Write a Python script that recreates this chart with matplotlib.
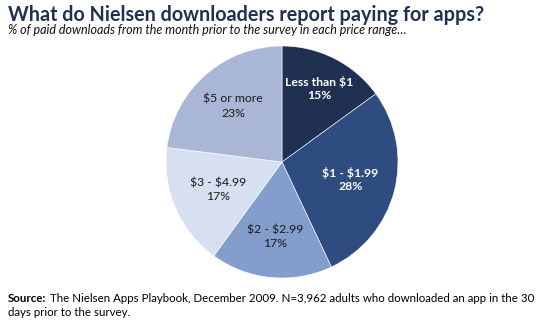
import matplotlib.pyplot as plt
import numpy as np

# price ranges and share of paid downloads
ranges = ["Less than $1", "$1 - $1.99", "$2 - $2.99", "$3 - $4.99", "$5 or more"]
shares = [15, 28, 17, 17, 23]

colors = ["#1f3050", "#2f4c80", "#839ecc", "#d7e0f0", "#aab6d6"]
text_colors = ["white", "white", "#1a1a1a", "#1a1a1a", "#1a1a1a"]
label_weight = ["bold", "bold", "normal", "normal", "normal"]
label_r = [0.71, 0.61, 0.65, 0.6, 0.64]

plt.rcParams['font.family'] = ['Lato', 'DejaVu Sans']
plt.rcParams['text.parse_math'] = False

fig = plt.figure(figsize=(5.45, 3.23), dpi=100)
fig.patch.set_facecolor("white")

fig.text(8 / 545, 1 - 15 / 323, "What do Nielsen downloaders report paying for apps?",
         fontsize=14.2, fontweight="bold", color="#1f3050", va="center", ha="left")
fig.text(8 / 545, 1 - 30 / 323,
         "% of paid downloads from the month prior to the survey in each price range\u2026",
         fontsize=9.0, fontstyle="italic", color="#111111", va="center", ha="left")

cx, cy, r = 282, 162, 116
ax = fig.add_axes([(cx - r) / 545, (323 - cy - r) / 323, 2 * r / 545, 2 * r / 323])
wedges, _ = ax.pie(shares, colors=colors, startangle=90, counterclock=False,
                   wedgeprops=dict(edgecolor="white", linewidth=0.4))
ax.set_xlim(-1, 1)
ax.set_ylim(-1, 1)
ax.set_aspect("equal")

for w, name, val, tc, fw, lr in zip(wedges, ranges, shares, text_colors, label_weight, label_r):
    mid = np.deg2rad((w.theta1 + w.theta2) / 2)
    x, y = lr * np.cos(mid), lr * np.sin(mid)
    ax.text(x, y, f"{name}\n{val}%", ha="center", va="center", color=tc,
            fontsize=8.8, fontweight=fw, linespacing=1.3)

fig.text(8 / 545, 1 - 298 / 323, "Source:", fontsize=8.25, fontweight="bold",
         color="black", va="center", ha="left")
fig.text(50 / 545, 1 - 298 / 323,
         "The Nielsen Apps Playbook, December 2009. N=3,962 adults who downloaded an app in the 30",
         fontsize=8.25, color="black", va="center", ha="left")
fig.text(8 / 545, 1 - 313 / 323, "days prior to the survey.", fontsize=8.25,
         color="black", va="center", ha="left")

fig.savefig("out.png", dpi=100)
